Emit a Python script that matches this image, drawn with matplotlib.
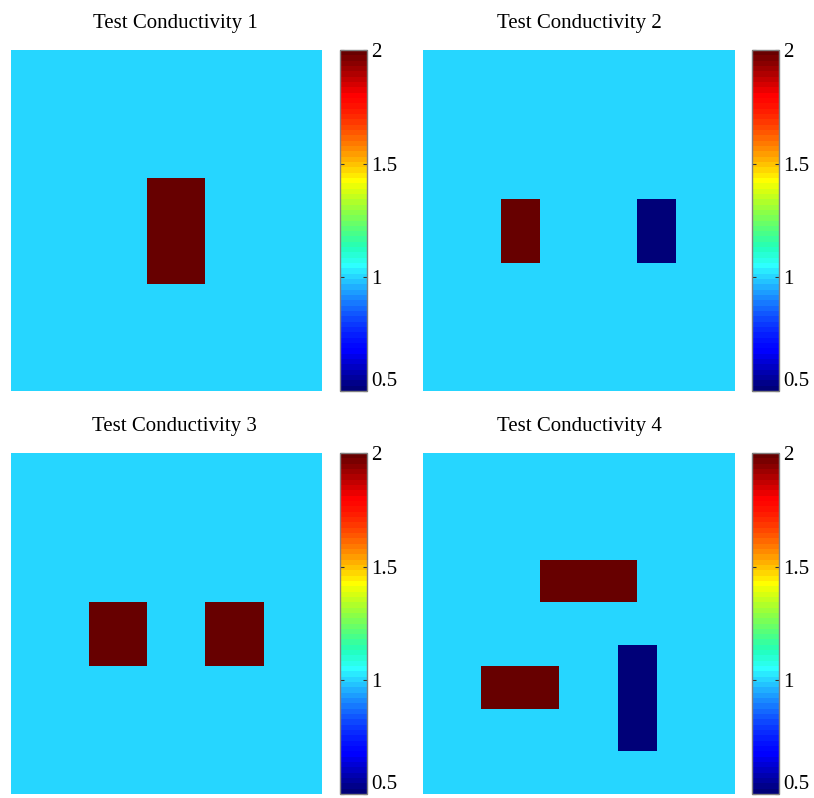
import numpy as np
import matplotlib
matplotlib.use("Agg")
import matplotlib.pyplot as plt
from matplotlib.colors import ListedColormap

plt.rcParams["font.family"] = ["Liberation Serif", "DejaVu Serif"]

# Conductivity maps on a 16x16 grid, background = 1.
# Each inclusion: (value, col_start, col_end, row_start, row_end), rows counted from top.
GRID_N = 16
BACKGROUND = 1.0
titles = ["Test Conductivity 1", "Test Conductivity 2",
          "Test Conductivity 3", "Test Conductivity 4"]
inclusions_1 = [(2.0, 7, 10, 6, 11)]
inclusions_2 = [(2.0, 4, 6, 7, 10), (0.5, 11, 13, 7, 10)]
inclusions_3 = [(2.0, 4, 7, 7, 10), (2.0, 10, 13, 7, 10)]
inclusions_4 = [(2.0, 6, 11, 5, 7), (2.0, 3, 7, 10, 12), (0.5, 10, 12, 9, 14)]
cbar_ticks = [0.5, 1, 1.5, 2]
cbar_labels = ["0.5", "1", "1.5", "2"]
VMIN, VMAX = 0.5, 2.0


def matlab_jet(n=64, gamma=1.3):
    """MATLAB jet(n) colormap, slightly darkened (print profile)."""
    m = n // 4
    u = np.concatenate([np.arange(1, m + 1) / m, np.ones(m - 1), np.arange(m, 0, -1) / m])
    g0 = int(np.ceil(m / 2)) - (1 if n % 4 == 1 else 0)
    idx = g0 + np.arange(1, len(u) + 1)
    rgb = np.zeros((n, 3))
    for ch, off in ((0, m), (1, 0), (2, -m)):
        pos = idx + off
        ok = (pos >= 1) & (pos <= n)
        rgb[pos[ok] - 1, ch] = u[ok]
    rgb = rgb ** gamma
    rgb[:, 0] = np.maximum(rgb[:, 0], 0.18 * rgb[:, 1] * rgb[:, 2])
    return ListedColormap(rgb, name="matlab_jet")


def build_map(inclusions):
    grid = np.full((GRID_N, GRID_N), BACKGROUND)
    for val, c0, c1, r0, r1 in inclusions:
        grid[r0:r1, c0:c1] = val
    return grid


cmap = matlab_jet(64)
maps = [build_map(inc) for inc in (inclusions_1, inclusions_2, inclusions_3, inclusions_4)]

fig = plt.figure(figsize=(8.14, 7.98), dpi=100)
W, H = 814, 798
ax_w, ax_h = 311, 341
cb_w = 27
lefts = [11, 423]
tops = [50, 453]
title_x = [0.527, 0.503]
cb_off = 329  # colorbar left relative to image left

for i, grid in enumerate(maps):
    x0 = lefts[i % 2]
    y0 = tops[i // 2]
    ax = fig.add_axes([x0 / W, 1 - (y0 + ax_h) / H, ax_w / W, ax_h / H])
    im = ax.imshow(grid, cmap=cmap, vmin=VMIN, vmax=VMAX, aspect="auto",
                   interpolation="nearest")
    ax.set_axis_off()
    ax.set_title(titles[i], fontsize=15, x=title_x[i % 2], pad=16)

    cax = fig.add_axes([(x0 + cb_off) / W, 1 - (y0 + ax_h) / H, cb_w / W, ax_h / H])
    cb = fig.colorbar(im, cax=cax)
    cb.set_ticks(cbar_ticks)
    cb.set_ticklabels(cbar_labels)
    cb.outline.set_edgecolor("#808080")
    cb.outline.set_linewidth(1.0)
    cax.tick_params(direction="in", left=True, right=True, length=3, width=0.8,
                    color="#333333", labelsize=15, pad=3)
    # lowest label sits on the bar's bottom edge
    cax.get_yticklabels()[0].set_verticalalignment("bottom")

fig.savefig("out.png", dpi=100)
